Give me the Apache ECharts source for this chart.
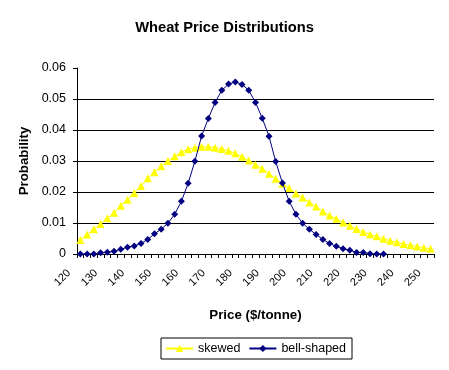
<!DOCTYPE html>
<html>
<head>
<meta charset="utf-8">
<script src="https://cdn.jsdelivr.net/npm/echarts@6/dist/echarts.min.js"></script>
<style>
  html, body { margin: 0; padding: 0; background: #fff; }
  #chart { width: 449px; height: 370px; }
</style>
</head>
<body>
<div id="chart"></div>
<script>
// Price categories ($/tonne)
var categories = [
  "120","122.5","125","127.5","130","132.5","135","137.5","140","142.5",
  "145","147.5","150","152.5","155","157.5","160","162.5","165","167.5",
  "170","172.5","175","177.5","180","182.5","185","187.5","190","192.5",
  "195","197.5","200","202.5","205","207.5","210","212.5","215","217.5",
  "220","222.5","225","227.5","230","232.5","235","237.5","240","242.5",
  "245","247.5","250"
];

var skewed = [
  0.0045,0.0063,0.0080,0.0097,0.0115,0.0133,0.0156,0.0175,0.0197,0.0219,
  0.0244,0.0264,0.0283,0.0300,0.0315,0.0328,0.0338,0.0343,0.0346,0.0346,
  0.0343,0.0339,0.0333,0.0325,0.0314,0.0302,0.0288,0.0275,0.0259,0.0243,
  0.0227,0.0213,0.0195,0.0182,0.0166,0.0153,0.0137,0.0124,0.0114,0.0102,
  0.0091,0.0081,0.0071,0.0063,0.0057,0.0049,0.0043,0.0038,0.0032,0.0028,
  0.0024,0.0020,0.0017
];

var bellShaped = [
  0.0000,0.0000,0.0000,0.0004,0.0006,0.0009,0.0015,0.0022,0.0026,0.0034,
  0.0047,0.0065,0.0080,0.0099,0.0128,0.0170,0.0228,0.0299,0.0381,0.0437,
  0.0489,0.0528,0.0548,0.0555,0.0547,0.0528,0.0489,0.0438,0.0380,0.0298,
  0.0229,0.0170,0.0128,0.0099,0.0080,0.0063,0.0047,0.0034,0.0025,0.0017,
  0.0012,0.0005,0.0005,0.0001,0.0000,0.0000
];

var seriesNames = ["skewed", "bell-shaped"];

var FONT = "'Liberation Sans', Arial, sans-serif";
var chart = echarts.init(document.getElementById('chart'), null, { renderer: 'canvas' });

chart.setOption({
  backgroundColor: '#ffffff',
  animation: false,
  title: {
    text: 'Wheat Price Distributions',
    left: 'center',
    top: 15,
    textStyle: { fontFamily: FONT, fontSize: 14.7, fontWeight: 'bold', color: '#000' }
  },
  legend: {
    data: seriesNames,
    left: 161,
    top: 338,
    orient: 'horizontal',
    borderColor: '#000',
    borderWidth: 1,
    padding: [4, 6, 4, 4],
    itemWidth: 27,
    itemHeight: 9,
    itemGap: 8,
    textStyle: { fontFamily: FONT, fontSize: 12.5, color: '#000' }
  },
  grid: { left: 77, right: 15, top: 68, bottom: 116, containLabel: false },
  xAxis: {
    type: 'category',
    data: categories,
    boundaryGap: true,
    name: 'Price ($/tonne)',
    nameLocation: 'middle',
    nameGap: 55,
    nameTextStyle: { fontFamily: FONT, fontSize: 13.3, fontWeight: 'bold', color: '#000' },
    axisLine: { show: true, lineStyle: { color: '#000', width: 1 } },
    axisTick: { show: true, interval: 0, length: 4, inside: false, lineStyle: { color: '#000' } },
    axisLabel: {
      interval: 3,
      rotate: 45,
      margin: 6,
      padding: [0, 16, 0, 0],
      fontFamily: FONT,
      fontSize: 11,
      color: '#000'
    },
    splitLine: { show: false }
  },
  yAxis: {
    type: 'value',
    min: 0,
    max: 0.06,
    interval: 0.01,
    name: 'Probability',
    nameLocation: 'middle',
    nameGap: 44,
    nameTextStyle: { fontFamily: FONT, fontSize: 13.3, fontWeight: 'bold', color: '#000' },
    axisLine: { show: true, lineStyle: { color: '#000', width: 1 } },
    axisTick: { show: true, length: 4, inside: false, lineStyle: { color: '#000' } },
    axisLabel: { margin: 11, fontFamily: FONT, fontSize: 12.5, color: '#000' },
    splitLine: {
      show: true,
      lineStyle: { color: ['#000', '#000', '#000', '#000', '#000', '#000', 'rgba(0,0,0,0)'], width: 1 }
    }
  },
  series: [
    {
      name: seriesNames[0],
      type: 'line',
      data: skewed,
      symbol: 'triangle',
      symbolSize: 8,
      showSymbol: true,
      showAllSymbol: true,
      color: '#FFFF00',
      lineStyle: { color: '#FFFF00', width: 1 },
      itemStyle: { color: '#FFFF00', borderWidth: 0 },
      z: 2
    },
    {
      name: seriesNames[1],
      type: 'line',
      data: bellShaped,
      symbol: 'diamond',
      symbolSize: 7,
      showSymbol: true,
      showAllSymbol: true,
      color: '#000080',
      lineStyle: { color: '#000080', width: 1 },
      itemStyle: { color: '#000080', borderWidth: 0 },
      z: 3
    }
  ]
});
</script>
</body>
</html>
